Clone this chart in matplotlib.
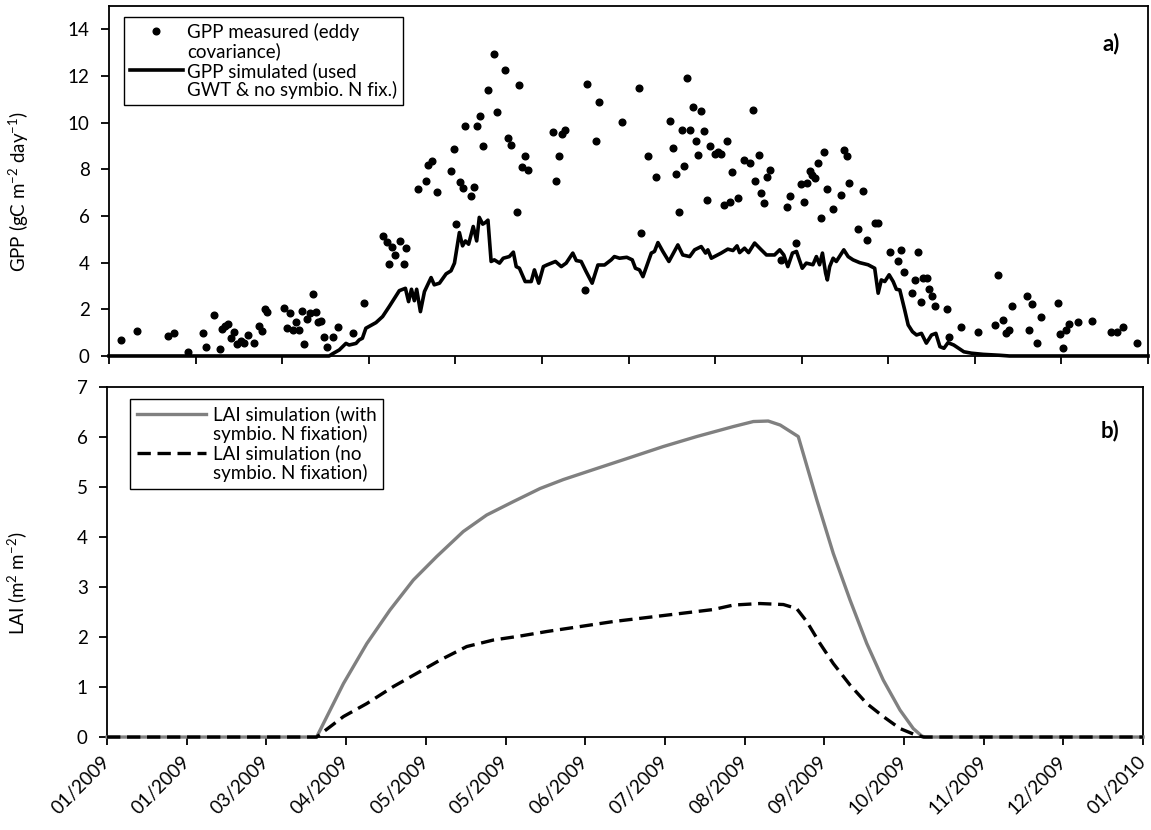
import datetime as dt
import matplotlib
matplotlib.use("Agg")
import matplotlib.pyplot as plt
from matplotlib.lines import Line2D
from matplotlib.ticker import MultipleLocator, FuncFormatter

plt.rcParams['font.family'] = ['Lato', 'DejaVu Sans']
plt.rcParams['mathtext.default'] = 'regular'

# x values are days since 01/01/2009

# a) measured GPP (eddy covariance), gC m-2 day-1
obs_day = [4.1, 9.8, 20.6, 22.5, 27.5, 32.4, 33.5, 36.3, 38.4, 39.3, 40.2, 41.2, 42.2, 43.2,
           44.2, 45.7, 46.7, 48.1, 50.1, 51.8, 53.0, 53.9, 54.9, 60.8, 61.8, 62.8, 63.6, 64.7,
           65.7, 66.7, 67.6, 68.6, 69.6, 70.6, 71.7, 72.5, 73.4, 74.6, 75.6, 77.5, 79.4, 84.4,
           88.4, 95.0, 96.2, 97.1, 98.0, 99.1, 101.0, 102.1, 103.0, 106.9, 109.8, 110.7, 111.8,
           113.6, 118.6, 119.5, 120.4, 121.7, 122.5, 123.5, 125.4, 126.5, 127.4, 128.4, 129.5,
           131.4, 133.3, 134.3, 137.1, 138.3, 139.3, 141.2, 142.2, 143.1, 144.2, 145.1, 154.0,
           154.9, 155.9, 157.0, 158.0, 164.8, 165.7, 168.9, 169.7, 177.6, 183.6, 184.5, 186.6,
           189.4, 194.5, 195.4, 196.4, 197.4, 198.4, 199.4, 200.3, 201.3, 202.4, 203.3, 204.2,
           205.2, 206.3, 207.3, 208.2, 210.1, 211.1, 212.1, 213.1, 214.2, 215.1, 216.0, 218.0,
           220.1, 222.1, 223.0, 224.0, 225.1, 226.0, 227.0, 228.1, 229.0, 232.9, 234.9, 235.8,
           237.9, 239.8, 240.7, 241.8, 242.8, 243.7, 244.7, 245.8, 246.7, 247.7, 248.8, 250.7,
           253.7, 254.6, 255.6, 256.5, 259.5, 261.4, 262.5, 265.4, 266.5, 270.6, 273.4, 274.4,
           275.4, 278.3, 279.4, 280.3, 281.2, 282.2, 283.3, 284.1, 285.3, 286.2, 290.2, 291.1,
           295.2, 301.0, 307.0, 308.0, 309.9, 310.8, 311.9, 312.9, 317.9, 318.7, 319.8, 321.7,
           322.8, 328.8, 329.6, 330.7, 331.6, 332.7, 335.6, 340.5, 347.3, 349.2, 351.4, 356.3]
obs_gpp = [0.69, 1.07, 0.86, 0.97, 0.16, 1.00, 0.37, 1.75, 0.31, 1.14, 1.29, 1.39, 0.76, 1.04,
           0.51, 0.66, 0.57, 0.90, 0.56, 1.29, 1.07, 2.03, 1.87, 2.07, 1.21, 1.86, 1.12, 1.47,
           1.12, 1.94, 0.50, 1.59, 1.83, 2.65, 1.90, 1.47, 1.49, 0.80, 0.37, 0.80, 1.24, 0.97,
           2.26, 5.15, 4.88, 3.95, 4.65, 4.32, 4.94, 3.93, 4.64, 7.15, 7.52, 8.17, 8.35,
           7.02, 7.94, 8.86, 5.64, 7.44, 7.18, 9.84, 6.87, 7.25, 9.87, 10.27, 9.01,
           11.40, 12.93, 10.47, 12.27, 9.34, 9.06, 6.15, 11.63, 8.12, 8.58, 7.95, 9.58,
           7.48, 8.57, 9.53, 9.70, 2.83, 11.67, 9.23, 10.87, 10.03, 11.50, 5.29, 8.58,
           7.67, 10.09, 8.91, 7.78, 6.17, 9.67, 8.15, 11.92, 9.67, 10.69, 9.20, 8.61,
           10.50, 9.63, 6.68, 9.00, 8.66, 8.74, 8.66, 6.47, 9.21, 6.62, 7.90, 6.78,
           8.38, 8.27, 10.53, 7.50, 8.63, 7.00, 6.55, 7.65, 7.98, 4.12, 6.39, 6.87,
           4.84, 7.35, 6.62, 7.41, 7.94, 7.77, 7.63, 8.27, 5.91, 8.76, 7.15, 6.31,
           6.88, 8.81, 8.58, 7.42, 5.46, 7.07, 4.95, 5.71, 5.71, 4.45, 4.05, 4.55,
           3.62, 2.70, 3.26, 4.46, 2.33, 3.33, 3.33, 2.89, 2.58, 2.16, 2.00, 0.80,
           1.23, 1.02, 1.34, 3.45, 1.53, 1.00, 1.10, 2.15, 2.55, 1.13, 2.24, 0.54,
           1.66, 2.27, 0.93, 0.36, 1.12, 1.37, 1.45, 1.52, 1.02, 1.02, 1.26, 0.57]

# a) simulated GPP (used GWT & no symbio. N fix.)
sim_day = [0, 76.3, 77.4, 79.8, 82.1, 83.2, 85.6, 86.7, 87.8, 89.0, 92.5, 94.8, 97.1, 100.6,
           102.7, 103.8, 104.8, 105.8, 106.6, 107.9, 109.3, 111.6, 112.7, 114.5, 116.8, 118.5,
           119.7, 121.4, 122.5, 123.5, 124.6, 126.2, 127.4, 128.3, 129.5, 130.4, 131.3, 132.4,
           133.5, 135.3, 136.6, 138.7, 140.1, 141.1, 142.2, 144.2, 146.3, 147.4, 148.9, 150.5,
           151.7, 154.7, 156.7, 158.4, 160.7, 161.9, 163.6, 165.3, 167.4, 169.4, 171.7, 174.0,
           175.1, 176.9, 179.4, 181.3, 182.4, 183.8, 185.0, 187.9, 189.0, 190.2, 191.9, 194.0,
           197.1, 198.8, 201.2, 202.9, 205.2, 206.7, 207.5, 208.7, 212.1, 214.4, 216.2, 217.6,
           218.5, 220.2, 221.6, 223.7, 226.0, 227.8, 230.6, 232.4, 233.8, 235.2, 236.8, 238.2,
           240.2, 241.6, 243.9, 245.1, 246.2, 247.2, 248.3, 248.9, 249.7, 250.9, 252.0, 254.6,
           256.1, 257.8, 260.1, 263.0, 265.3, 266.5, 267.6, 268.8, 270.3, 271.7, 272.8, 274.0,
           275.7, 276.9, 278.4, 279.8, 281.5, 283.2, 285.0, 286.5, 287.9, 289.3, 290.7, 292.7,
           296.2, 298.8, 302.9, 308.7, 312.0, 360.0]
sim_gpp = [0, 0, 0.09, 0.26, 0.54, 0.47, 0.54, 0.69, 0.76, 1.19, 1.43, 1.69, 2.12, 2.80,
           2.90, 2.33, 2.86, 2.37, 2.86, 1.90, 2.76, 3.36, 3.05, 3.12, 3.52, 3.65,
           3.98, 5.29, 4.72, 4.93, 4.79, 5.55, 4.93, 5.94, 5.65, 5.72, 5.82, 4.05,
           4.12, 3.98, 4.19, 4.26, 4.45, 3.83, 3.76, 3.19, 3.19, 3.69, 3.12, 3.83,
           3.90, 4.05, 3.83, 3.98, 4.41, 4.09, 4.05, 3.62, 3.12, 3.90, 3.90, 4.12,
           4.26, 4.19, 4.23, 4.12, 3.76, 3.69, 3.40, 4.41, 4.48, 4.86, 4.48, 4.05,
           4.76, 4.33, 4.26, 4.55, 4.69, 4.41, 4.55, 4.19, 4.41, 4.58, 4.52, 4.72,
           4.43, 4.62, 4.43, 4.84, 4.55, 4.33, 4.33, 4.55, 4.33, 3.83, 4.41, 4.48,
           3.76, 3.98, 3.91, 4.26, 3.91, 4.41, 3.55, 3.26, 3.83, 4.19, 4.05, 4.55,
           4.26, 4.12, 4.00, 3.91, 3.76, 2.69, 3.26, 3.19, 3.48, 3.19, 2.86, 2.83,
           1.97, 1.33, 1.04, 0.90, 0.97, 0.55, 0.90, 0.97, 0.40, 0.33, 0.57, 0.47,
           0.18, 0.12, 0.07, 0.03, 0, 0]

# b) LAI (m2 m-2) with symbiotic N fixation
fix_day = [0, 78.9, 89.0, 97.8, 106.5, 115.3, 124.1, 134.1, 142.9, 153.0, 163.0, 171.8, 184.3,
           196.9, 209.4, 222.0, 235.8, 243.3, 248.9, 253.4, 260.2, 267.2, 273.4, 279.7, 286.0,
           292.2, 298.5, 303.5, 306.7, 307.9, 390]
fix_lai = [0, 0, 1.07, 1.87, 2.54, 3.14, 3.61, 4.11, 4.44, 4.71, 4.97, 5.15, 5.37,
           5.59, 5.81, 6.01, 6.21, 6.31, 6.32, 6.24, 6.01, 4.74, 3.67, 2.74, 1.87,
           1.14, 0.54, 0.17, 0.02, 0, 0]

# b) LAI without symbiotic N fixation
nofix_day = [0, 78.9, 89.0, 97.8, 107.8, 117.8, 125.4, 135.4, 145.4, 155.5, 165.5, 178.1,
             190.6, 203.2, 215.7, 228.2, 235.8, 245.8, 254.6, 259.6, 263.4, 268.4, 273.4,
             279.7, 286.0, 292.2, 298.5, 303.5, 307.3, 390]
nofix_lai = [0, 0, 0.41, 0.67, 1.01, 1.31, 1.54, 1.81, 1.94, 2.02, 2.11, 2.21,
             2.31, 2.39, 2.47, 2.55, 2.64, 2.67, 2.65, 2.57, 2.31, 1.87, 1.47,
             1.04, 0.67, 0.41, 0.17, 0.06, 0, 0]

start = dt.date(2009, 1, 1)
FS = 13.5
DASH = (0, (4, 2))


def day_label(d, pos):
    return (start + dt.timedelta(days=int(round(d)))).strftime('%m/%Y')


fig = plt.figure(figsize=(11.51, 8.30), dpi=100)
ax1 = fig.add_axes([0.0947, 0.5711, 0.9027, 0.4217])
ax2 = fig.add_axes([0.0930, 0.1120, 0.9001, 0.4217])

for ax in (ax1, ax2):
    for s in ax.spines.values():
        s.set_linewidth(1.3)
    ax.tick_params(axis='both', direction='out', length=6, width=1.3,
                   labelsize=FS, top=False, right=False)
    ax.tick_params(axis='y', pad=8)
    ax.xaxis.set_major_locator(MultipleLocator(30))

# ---- a) GPP
ax1.plot(obs_day, obs_gpp, 'o', color='black', markersize=4.8, clip_on=False, zorder=3)
ax1.plot(sim_day, sim_gpp, '-', color='black', linewidth=2.6, clip_on=False, zorder=4)
ax1.set_xlim(0, 360)
ax1.set_ylim(0, 15)
ax1.set_yticks(range(0, 15, 2))
ax1.tick_params(axis='x', labelbottom=False)
ax1.set_ylabel('GPP (gC m$^{-2}$ day$^{-1}$)', fontsize=FS)
ax1.yaxis.set_label_coords(-0.075, 0.47)
ax1.text(0.973, 0.894, 'a)', transform=ax1.transAxes, ha='right', va='center',
         fontsize=16, fontweight='bold')

blank = Line2D([], [], linestyle='none')
h_obs = Line2D([], [], linestyle='none', marker='o', color='black', markersize=4.8)
h_sim = Line2D([], [], color='black', linewidth=2.6)
leg1 = ax1.legend([h_obs, blank, h_sim, blank],
                  ['GPP measured (eddy', 'covariance)', 'GPP simulated (used',
                   'GWT & no symbio. N fix.)'],
                  loc='upper left', bbox_to_anchor=(0.0144, 0.9675), borderaxespad=0,
                  fancybox=False, edgecolor='black', framealpha=1, fontsize=FS,
                  handlelength=2.85, handletextpad=0.2, labelspacing=0.08, borderpad=0.3)
leg1.get_frame().set_linewidth(1.0)

# ---- b) LAI
ax2.plot(fix_day, fix_lai, '-', color='#808080', linewidth=2.4, clip_on=False, zorder=3)
ax2.plot(nofix_day, nofix_lai, color='black', linewidth=2.4, linestyle=DASH,
         clip_on=False, zorder=4)
ax2.set_xlim(0, 390)
ax2.set_ylim(0, 7)
ax2.set_yticks(range(0, 8))
ax2.xaxis.set_major_formatter(FuncFormatter(day_label))
plt.setp(ax2.get_xticklabels(), rotation=45, ha='right', va='center',
         rotation_mode='anchor')
ax2.tick_params(axis='x', pad=10)
ax2.set_ylabel('LAI (m$^{2}$ m$^{-2}$)', fontsize=FS)
ax2.yaxis.set_label_coords(-0.075, 0.44)
ax2.text(0.977, 0.877, 'b)', transform=ax2.transAxes, ha='right', va='center',
         fontsize=16, fontweight='bold')

h_fix = Line2D([], [], color='#808080', linewidth=2.4)
h_nofix = Line2D([], [], color='black', linewidth=2.4, linestyle=DASH)
leg2 = ax2.legend([h_fix, blank, h_nofix, blank],
                  ['LAI simulation (with', 'symbio. N fixation)', 'LAI simulation (no',
                   'symbio. N fixation)'],
                  loc='upper left', bbox_to_anchor=(0.0222, 0.9657), borderaxespad=0,
                  fancybox=False, edgecolor='black', framealpha=1, fontsize=FS,
                  handlelength=3.7, handletextpad=0.35, labelspacing=0.08, borderpad=0.35)
leg2.get_frame().set_linewidth(1.0)

fig.savefig('out.png', dpi=100, facecolor='white')
